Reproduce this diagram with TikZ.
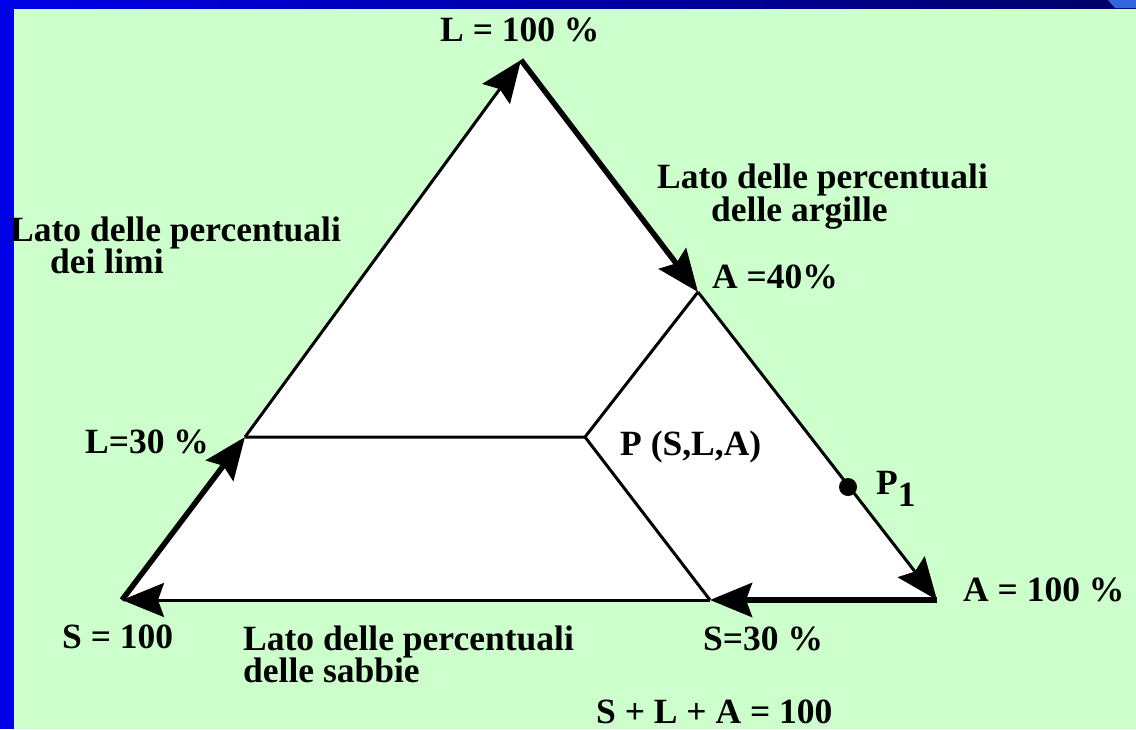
\documentclass[tikz,border=0pt]{standalone}
\usepackage{fontspec}
\setmainfont{Liberation Serif}
\usetikzlibrary{arrows.meta}
\definecolor{fondo}{HTML}{CCFFCC}
\definecolor{bordo}{HTML}{0000E6}
\definecolor{notte}{HTML}{000066}
\definecolor{angolo}{HTML}{3366DD}

\begin{document}
\begin{tikzpicture}[x=1pt,y=-1pt,font=\fontsize{35.5}{36}\selectfont\bfseries,
  punta/.style={-{Stealth[length=42pt,width=34pt,inset=6pt]}},
  spesso/.style={punta,line width=5.5pt},
  sottile/.style={punta,line width=3pt},
  etich/.style={inner sep=0pt,anchor=base west}]
  \useasboundingbox (0,0) rectangle (1136,729);
  \fill[fondo] (0,0) rectangle (1136,729);
  \fill[bordo] (0,0) rectangle (14,729);
  \shade[left color=bordo,right color=notte] (14,0) rectangle (1136,8);
  \fill[angolo] (1108,0) -- (1136,0) -- (1136,8) -- (1115,8) -- cycle;
  \coordinate (S) at (122,600); \coordinate (L) at (521,60); \coordinate (A) at (937,600);
  \coordinate (L30) at (245,437); \coordinate (A40) at (698,292);
  \coordinate (S30) at (710,600); \coordinate (P) at (585,437);
  \fill[white] (S) -- (L) -- (A) -- cycle;
  \draw[line width=3pt] (L30) -- (P) -- (A40) (P) -- (S30);
  \draw[spesso] (S) -- (L30);
  \draw[sottile] (L30) -- (L);
  \draw[spesso] (L) -- (A40);
  \draw[sottile] (A40) -- (A);
  \draw[spesso] (A) -- (S30);
  \draw[sottile] (S30) -- (S);
  \node[circle,fill=black,inner sep=0pt,minimum size=18pt] (P1) at (848,487) {};
  \node[etich] (tL) at (440,41) {L = 100 \%};
  \node[etich] (argA) at (657,188) {Lato delle percentuali};
  \node[etich] (argB) at (711,221) {delle argille};
  \node[etich] (limA) at (10,241) {Lato delle percentuali};
  \node[etich] (limB) at (50,273) {dei limi};
  \node[etich] (tA40) at (712,288) {A =40\%};
  \node[etich] (tL30) at (85,453) {L=30 \%};
  \node[etich] (tP) at (620,455) {P (S,L,A)};
  \node[etich] (tP1) at (876,494) {P\raisebox{-12pt}{1}};
  \node[etich] (tA) at (963,601) {A = 100 \%};
  \node[etich] (tS) at (62,648) {S = 100};
  \node[etich] (sabA) at (243,650) {Lato delle percentuali};
  \node[etich] (sabB) at (243,682) {delle sabbie};
  \node[etich] (tS30) at (703,650) {S=30 \%};
  \node[etich] (somma) at (596,723) {S + L + A = 100};
\end{tikzpicture}
\end{document}
